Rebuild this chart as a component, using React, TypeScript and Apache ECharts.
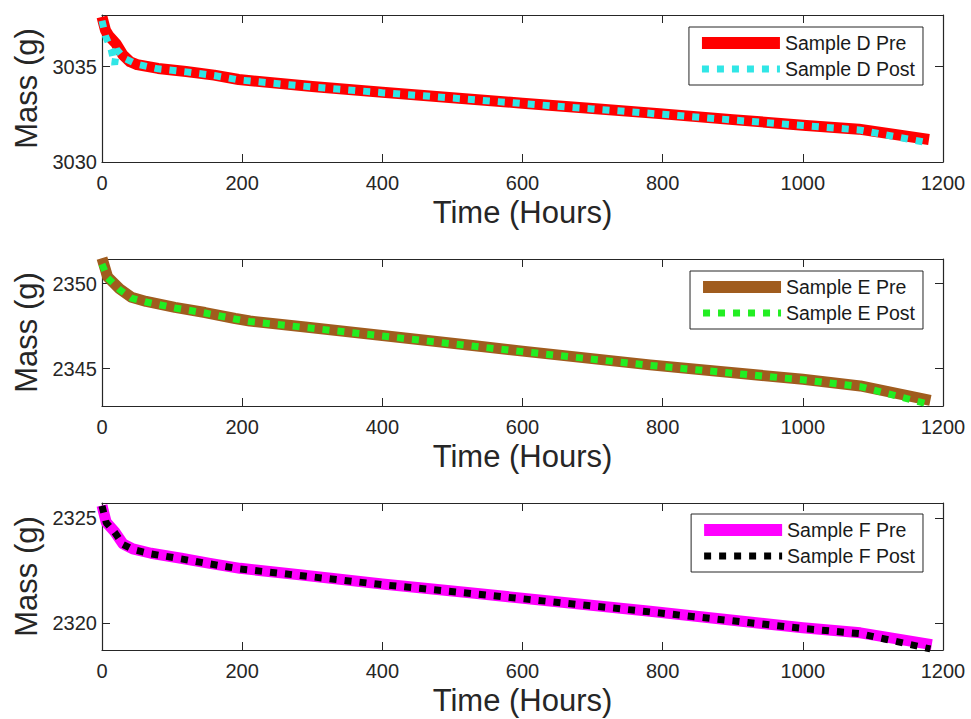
import React, { useEffect, useRef } from "react";
import * as echarts from "echarts";

// ---- data ----
const xTicks = [0, 200, 400, 600, 800, 1000, 1200];

const dPreTime = [0, 5, 10, 20, 30, 40, 50, 80, 120, 160, 195, 300, 400, 500, 600, 700, 800, 900, 1000, 1080, 1180];
const dPreMass = [3037.6, 3036.9, 3036.6, 3036.2, 3035.6, 3035.25, 3035.1, 3034.9, 3034.74, 3034.55, 3034.32, 3033.95, 3033.65, 3033.37, 3033.08, 3032.8, 3032.52, 3032.22, 3031.93, 3031.72, 3031.18];
const dPostTime = [0, 5, 13, 18, 21, 31, 50, 80, 120, 160, 195, 300, 400, 500, 600, 700, 800, 900, 1000, 1080, 1172];
const dPostMass = [3037.4, 3036.6, 3035.9, 3035.1, 3035.9, 3035.45, 3035.12, 3034.88, 3034.72, 3034.53, 3034.3, 3033.93, 3033.63, 3033.35, 3033.06, 3032.78, 3032.5, 3032.2, 3031.91, 3031.68, 3031.05];

const ePreTime = [0, 8, 25, 42, 63, 104, 147, 190, 211, 290, 400, 532, 600, 782, 1000, 1082, 1182];
const ePreMass = [2351.5, 2350.4, 2349.7, 2349.2, 2348.95, 2348.6, 2348.3, 2347.95, 2347.8, 2347.45, 2346.95, 2346.34, 2346.03, 2345.22, 2344.37, 2343.98, 2343.13];
const ePostTime = [0, 8, 25, 42, 63, 104, 147, 190, 211, 290, 400, 532, 600, 782, 1000, 1082, 1177];
const ePostMass = [2351.15, 2350.35, 2349.65, 2349.15, 2348.92, 2348.57, 2348.27, 2347.92, 2347.77, 2347.42, 2346.92, 2346.31, 2346.0, 2345.19, 2344.34, 2343.94, 2342.93];

const fPreTime = [0, 6, 18, 30, 44, 70, 113, 154, 197, 282, 400, 532, 782, 1000, 1082, 1184];
const fPreMass = [2325.6, 2324.8, 2324.35, 2323.77, 2323.53, 2323.32, 2323.08, 2322.84, 2322.6, 2322.29, 2321.85, 2321.41, 2320.55, 2319.76, 2319.52, 2318.96];
const fPostTime = [0, 6, 18, 30, 44, 70, 113, 154, 197, 282, 400, 532, 782, 1000, 1082, 1182];
const fPostMass = [2325.58, 2324.78, 2324.32, 2323.74, 2323.5, 2323.29, 2323.05, 2322.81, 2322.57, 2322.26, 2321.82, 2321.38, 2320.52, 2319.73, 2319.48, 2318.75];

const panels = [
  { pre: "Sample D Pre", post: "Sample D Post", preColor: "#ff0000", postColor: "#30e6e6",
    preT: dPreTime, preM: dPreMass, postT: dPostTime, postM: dPostMass,
    yMin: 3030, yMax: 3037.7, yTicks: [3030, 3035] },
  { pre: "Sample E Pre", post: "Sample E Post", preColor: "#a05c1e", postColor: "#22ee22",
    preT: ePreTime, preM: ePreMass, postT: ePostTime, postM: ePostMass,
    yMin: 2342.8, yMax: 2351.45, yTicks: [2345, 2350] },
  { pre: "Sample F Pre", post: "Sample F Post", preColor: "#ff00ff", postColor: "#000000",
    preT: fPreTime, preM: fPreMass, postT: fPostTime, postM: fPostMass,
    yMin: 2318.7, yMax: 2325.72, yTicks: [2320, 2325] },
];

const gridTops = [15, 259, 503];
const gridHeight = 147;
const legendTops = [27, 271, 514];

const FONT = "'Liberation Sans', Arial, sans-serif";
const AXC = "#262626";

function zip(t: number[], m: number[]) {
  return t.map((v, i) => [v, m[i]]);
}

export default function App() {
  const ref = useRef<HTMLDivElement>(null);
  useEffect(() => {
    if (!ref.current) return;
    const chart = echarts.init(ref.current, undefined, { renderer: "svg" });
    const grid: any[] = [];
    const xAxis: any[] = [];
    const yAxis: any[] = [];
    const series: any[] = [];
    const legend: any[] = [];
    const fmt = (v: number) => String(v);
    panels.forEach((p, i) => {
      grid.push({ left: 102, right: 28, top: gridTops[i], height: gridHeight, show: false });
      const tickCommon = { show: true, inside: true, length: 8, lineStyle: { color: AXC, width: 1 } };
      xAxis.push({
        type: "value", gridIndex: i, position: "bottom", min: 0, max: 1200,
        axisLine: { show: true, onZero: false, lineStyle: { color: AXC, width: 1.2 } },
        axisTick: { ...tickCommon, customValues: xTicks },
        axisLabel: { color: AXC, fontSize: 20, fontFamily: FONT, margin: 11, customValues: xTicks, formatter: fmt },
        splitLine: { show: false },
        name: "Time (Hours)", nameLocation: "middle", nameGap: 35,
        nameTextStyle: { color: AXC, fontSize: 31, fontFamily: FONT },
      });
      xAxis.push({
        type: "value", gridIndex: i, position: "top", min: 0, max: 1200,
        axisLine: { show: true, onZero: false, lineStyle: { color: AXC, width: 1.2 } },
        axisTick: { ...tickCommon, customValues: xTicks }, axisLabel: { show: false }, splitLine: { show: false },
      });
      yAxis.push({
        type: "value", gridIndex: i, position: "left", min: p.yMin, max: p.yMax,
        axisLine: { show: true, onZero: false, lineStyle: { color: AXC, width: 1.2 } },
        axisTick: { ...tickCommon, customValues: p.yTicks },
        axisLabel: { color: AXC, fontSize: 20, fontFamily: FONT, margin: 5, customValues: p.yTicks, formatter: fmt },
        splitLine: { show: false },
        name: "Mass (g)", nameLocation: "middle", nameGap: 57,
        nameTextStyle: { color: AXC, fontSize: 31, fontFamily: FONT },
      });
      yAxis.push({
        type: "value", gridIndex: i, position: "right", min: p.yMin, max: p.yMax,
        axisLine: { show: true, onZero: false, lineStyle: { color: AXC, width: 1.2 } },
        axisTick: { ...tickCommon, customValues: p.yTicks },
        axisLabel: { show: false }, splitLine: { show: false },
      });
      series.push({
        type: "line", name: p.pre, xAxisIndex: 2 * i, yAxisIndex: 2 * i,
        data: zip(p.preT, p.preM), showSymbol: false, symbol: "none", clip: false,
        lineStyle: { color: p.preColor, width: 11, cap: "butt", join: "round" },
        itemStyle: { color: p.preColor }, z: 3,
      });
      series.push({
        type: "line", name: p.post, xAxisIndex: 2 * i, yAxisIndex: 2 * i,
        data: zip(p.postT, p.postM), showSymbol: false, symbol: "none", clip: false,
        lineStyle: { color: p.postColor, width: 7, type: [7, 8], cap: "butt" },
        itemStyle: { color: p.postColor }, z: 4,
      });
      legend.push({
        data: [
          { name: p.pre, lineStyle: { width: 12, type: "solid", color: p.preColor } },
          { name: p.post, lineStyle: { width: 7, type: [7, 8], color: p.postColor, cap: "butt" } },
        ],
        orient: "vertical", right: 48, top: legendTops[i],
        padding: [5, 8, 5, 7], itemGap: 4, itemWidth: 78, itemHeight: 12,
        itemStyle: { opacity: 0 },
        backgroundColor: "#ffffff", borderColor: AXC, borderWidth: 1, borderRadius: 0,
        textStyle: { color: "#1a1a1a", fontSize: 19.5, fontFamily: FONT, lineHeight: 22 },
        selectedMode: false, z: 10,
      });
    });
    chart.setOption({
      animation: false,
      backgroundColor: "#ffffff",
      grid, xAxis, yAxis, series, legend,
    });
    return () => chart.dispose();
  }, []);
  return <div ref={ref} style={{ position: "fixed", left: 0, top: 0, width: 971, height: 719 }} />;
}
